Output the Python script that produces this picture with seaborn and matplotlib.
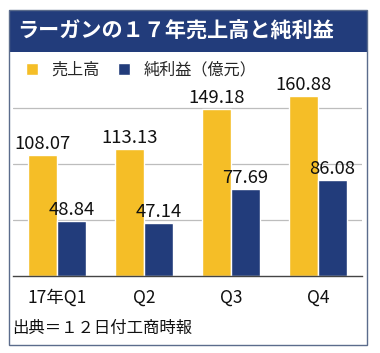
import matplotlib
matplotlib.use("Agg")
import matplotlib.pyplot as plt
import seaborn as sns
import pandas as pd
from matplotlib.patches import Rectangle

quarters = ["17年Q1", "Q2", "Q3", "Q4"]
sales = [108.07, 113.13, 149.18, 160.88]
profit = [48.84, 47.14, 77.69, 86.08]
series_names = ["売上高", "純利益（億元）"]
title = "ラーガンの１７年売上高と純利益"
source = "出典＝１２日付工商時報"

YELLOW = "#F5BE27"
NAVY = "#223C7B"

sns.set_theme(style="white")
plt.rcParams['font.family'] = ['Noto Sans CJK JP', 'DejaVu Sans']

df = pd.DataFrame({
    "quarter": quarters * 2,
    "value": sales + profit,
    "series": [series_names[0]] * 4 + [series_names[1]] * 4,
})

fig = plt.figure(figsize=(3.8, 3.53), dpi=100)
ax = fig.add_axes([13/380, 1-276/353, 349/380, 224/353])

sns.barplot(data=df, x="quarter", y="value", hue="series", order=quarters,
            hue_order=series_names, palette=[YELLOW, NAVY], width=0.67,
            saturation=1, ax=ax, errorbar=None)

ax.set_ylim(0, 200)
ax.set_xlim(-0.506, 3.506)
ax.set_yticks([50, 100, 150])
ax.yaxis.grid(True, color="#bdbdbd", linewidth=0.9)
ax.set_axisbelow(True)
ax.set_yticklabels([])
ax.tick_params(axis="y", length=0)
ax.tick_params(axis="x", length=0, pad=9, labelsize=12.5, colors="#111111")
ax.set_xlabel("")
ax.set_ylabel("")
for s in ["top", "left", "right"]:
    ax.spines[s].set_visible(False)
ax.spines["bottom"].set_color("#444444")
ax.spines["bottom"].set_linewidth(1.0)

for cont in ax.containers:
    ax.bar_label(cont, fmt="%.2f", padding=1.5, fontsize=13.3, color="#111111")

sns.move_legend(ax, "center left", bbox_to_anchor=(26/380, 1-70/353),
                bbox_transform=fig.transFigure, ncol=2, frameon=False,
                title=None, fontsize=11.6, handlelength=0.72, handleheight=0.72,
                handletextpad=0.85, columnspacing=1.15, borderpad=0, borderaxespad=0)

# Title bar and frame
fig.patches.append(Rectangle((9/380, 1-52/353), 358/380, 42/353,
                             transform=fig.transFigure, facecolor=NAVY,
                             edgecolor="none", zorder=0))
fig.patches.append(Rectangle((9/380, 1-345/353), 358/380, 335/353,
                             transform=fig.transFigure, facecolor="none",
                             edgecolor="#5b6c8c", linewidth=1.0, zorder=5))
fig.text(17.5/380, 1-31/353, title, color="white", fontsize=15.2,
         fontweight="bold", ha="left", va="center")
fig.text(12/380, 1-328/353, source, color="#111111", fontsize=11.8,
         ha="left", va="center")

fig.savefig("out.png", dpi=100)
